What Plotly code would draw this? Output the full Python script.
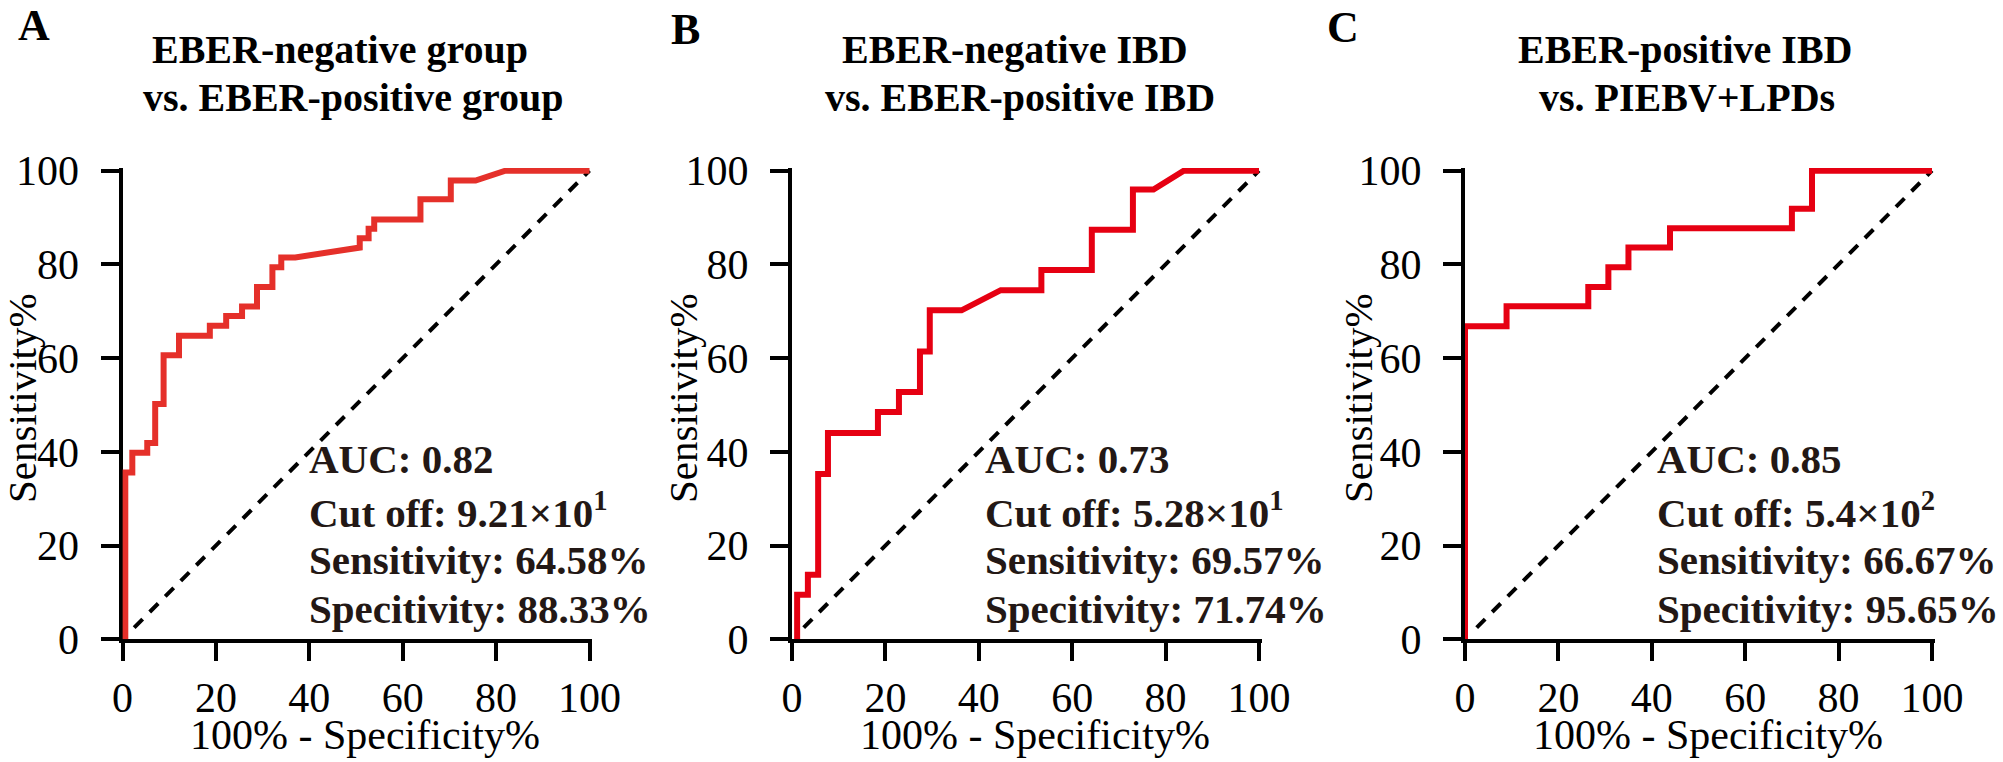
import plotly.graph_objects as go

# ROC curves: 100% - specificity% (x) vs sensitivity% (y)
a_fpr = [0.6, 0.6, 2.1, 2.1, 5.3, 5.3, 7.0, 7.0, 8.8, 8.8, 12.1, 12.1, 18.7, 18.7,
         22.2, 22.2, 25.6, 25.6, 28.8, 28.8, 32.1, 32.1, 34.0, 34.0, 37.0, 50.8,
         50.8, 52.7, 52.7, 53.9, 53.9, 63.8, 63.8, 70.3, 70.3, 75.6, 82.0, 100.0]
a_sens = [0.0, 35.6, 35.6, 39.8, 39.8, 41.9, 41.9, 50.2, 50.2, 60.6, 60.6, 64.8, 64.8, 66.9,
          66.9, 69.0, 69.0, 71.0, 71.0, 75.2, 75.2, 79.4, 79.4, 81.5, 81.5, 83.6,
          85.6, 85.6, 87.6, 87.6, 89.6, 89.6, 93.9, 93.9, 97.9, 97.9, 100.0, 100.0]

b_fpr = [1.1, 1.1, 3.4, 3.4, 5.6, 5.6, 7.7, 7.7, 18.4, 18.4, 22.9, 22.9, 27.4, 27.4,
         29.5, 29.5, 36.3, 44.7, 53.4, 53.4, 64.2, 64.2, 73.0, 73.0, 77.4, 83.9, 100.0]
b_sens = [0.0, 9.5, 9.5, 13.8, 13.8, 35.3, 35.3, 44.0, 44.0, 48.5, 48.5, 52.8, 52.8, 61.4,
          61.4, 70.2, 70.2, 74.5, 74.5, 78.8, 78.8, 87.4, 87.4, 96.0, 96.0, 100.0, 100.0]

c_fpr = [0.0, 0.0, 8.9, 8.9, 26.4, 26.4, 30.7, 30.7, 35.0, 35.0, 43.9, 43.9, 70.0, 70.0,
         74.3, 74.3, 100.0]
c_sens = [0.0, 66.8, 66.8, 71.1, 71.1, 75.2, 75.2, 79.4, 79.4, 83.6, 83.6, 87.7, 87.7, 91.9,
          91.9, 100.0, 100.0]

diag = [2.5, 100.0]
tick_vals = [0, 20, 40, 60, 80, 100]

panel_letters = ["A", "B", "C"]
titles_1 = ["EBER-negative group", "EBER-negative IBD", "EBER-positive IBD"]
titles_2 = ["vs. EBER-positive group", "vs. EBER-positive IBD", "vs. PIEBV+LPDs"]
auc = ["0.82", "0.73", "0.85"]
cutoff = ["9.21×10<sup>1</sup>", "5.28×10<sup>1</sup>", "5.4×10<sup>2</sup>"]
sensitivity = ["64.58%", "69.57%", "66.67%"]
specificity = ["88.33%", "71.74%", "95.65%"]

curves = [(a_fpr, a_sens), (b_fpr, b_sens), (c_fpr, c_sens)]
red = ["#E5302A", "#E60012", "#E60012"]

W, H = 2003, 762
SERIF = "Liberation Serif"
TXT = "#231815"
x0_px = [122.5, 792.0, 1465.0]   # pixel of x=0 for each panel
y0_px = 639.3                    # pixel of y=0
ux, uy = 4.67, 4.686             # pixels per unit
XMAX = 100.6

# text placement (pixels from top-left)
letter_xy = [(33.5, 25.5), (685.0, 29.0), (1342.5, 28.0)]
title1_x = [340.0, 1015.0, 1685.0]
title2_x = [353.0, 1020.0, 1687.0]
ytitle_x = [22.0, 683.0, 1358.0]
stats_x = [306.5, 983.4, 1655.0]
stats_y = [458.7, 510.0, 559.7, 608.7]

def px(p):
    return p / W

def py(p):
    return 1 - p / H

fig = go.Figure()
annotations = []
for i in range(3):
    sfx = "" if i == 0 else str(i + 1)
    xa, ya = "x" + sfx, "y" + sfx
    fx, fy = curves[i]
    fig.add_trace(go.Scatter(x=diag, y=diag, mode="lines", xaxis=xa, yaxis=ya,
                             line=dict(color="black", width=4, dash="12px,10px"),
                             showlegend=False, hoverinfo="skip"))
    fig.add_trace(go.Scatter(x=fx, y=fy, mode="lines", xaxis=xa, yaxis=ya,
                             line=dict(color=red[i], width=6),
                             showlegend=False))

    axis = dict(range=[0, XMAX], showgrid=False, zeroline=False, showline=True,
                linewidth=4, linecolor="black", ticks="outside", ticklen=18,
                tickwidth=4, tickcolor="black", tickvals=tick_vals,
                tickfont=dict(family=SERIF, size=42, color="black"),
                layer="below traces", fixedrange=True)
    xd = [px(x0_px[i]), px(x0_px[i] + XMAX * ux)]
    yd = [py(y0_px), py(y0_px - XMAX * uy)]
    fig.update_layout(**{
        "xaxis" + sfx: dict(axis, domain=xd, anchor=ya, ticklabelstandoff=0),
        "yaxis" + sfx: dict(axis, domain=yd, anchor=xa, ticklabelstandoff=13),
    })

    cx = x0_px[i] + 50 * ux
    # panel letter and two-line title
    lx, ly = letter_xy[i]
    annotations.append(dict(text="<b>%s</b>" % panel_letters[i], x=px(lx), y=py(ly),
                            xanchor="center", yanchor="middle", font=dict(size=44)))
    annotations.append(dict(text="<b>%s</b>" % titles_1[i], x=px(title1_x[i]), y=py(49.5),
                            xanchor="center", yanchor="middle", font=dict(size=40)))
    annotations.append(dict(text="<b>%s</b>" % titles_2[i], x=px(title2_x[i]), y=py(97),
                            xanchor="center", yanchor="middle", font=dict(size=40)))
    # axis titles
    annotations.append(dict(text="100% - Specificity%", x=px(cx + 9), y=py(735),
                            xanchor="center", yanchor="middle", font=dict(size=42)))
    annotations.append(dict(text="Sensitivity%", x=px(ytitle_x[i]), y=py(398),
                            textangle=-90, xanchor="center", yanchor="middle",
                            font=dict(size=41)))
    # stats block
    lines = ["AUC: " + auc[i], "Cut off: " + cutoff[i],
             "Sensitivity: " + sensitivity[i], "Specitivity: " + specificity[i]]
    for t, yc in zip(lines, stats_y):
        annotations.append(dict(text="<b>%s</b>" % t, x=px(stats_x[i]), y=py(yc),
                                xanchor="left", yanchor="middle",
                                font=dict(size=41, color=TXT)))

for a in annotations:
    a.update(xref="paper", yref="paper", showarrow=False)
    a["font"] = dict(dict(family=SERIF, color="black"), **a["font"])

fig.update_layout(width=W, height=H,
                  margin=dict(l=0, r=0, t=0, b=0, pad=0, autoexpand=False),
                  plot_bgcolor="white", paper_bgcolor="white",
                  annotations=annotations, showlegend=False)

fig.write_html("out.html", config={"displayModeBar": False},
               post_script="document.body.style.margin='0';"
                           "document.body.style.overflow='hidden';")
